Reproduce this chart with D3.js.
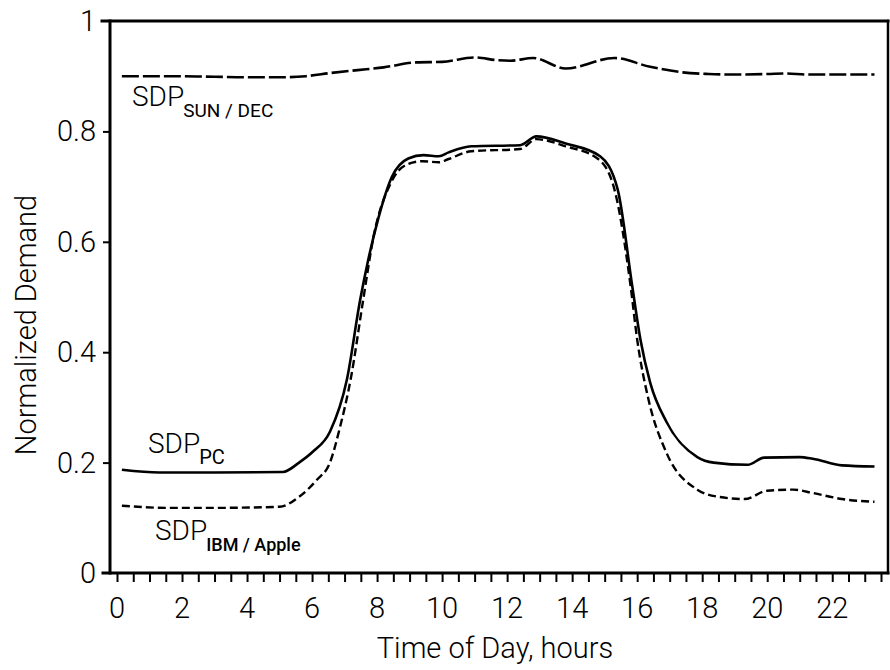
<!DOCTYPE html>
<html>
<head>
<meta charset="utf-8">
<script src="https://cdn.jsdelivr.net/npm/d3@7"></script>
<style>
  html, body { margin: 0; padding: 0; background: #fff; }
  svg { display: block; font-family: Roboto, "Liberation Sans", Arial, sans-serif; font-weight: 300; }
</style>
</head>
<body>
<svg id="chart" width="890" height="670"></svg>
<script>
// ---- data ----
const sunDecHours  = [0.15, 1, 2, 3, 4, 5, 5.8, 6.6, 7.4, 8.2, 9.2, 10, 11, 11.7, 12.1, 12.8, 13.8, 15.3, 16.4, 17.4, 18.2, 19, 20, 20.6, 21.2, 22, 23.3];
const sunDecValues = [0.900, 0.900, 0.900, 0.899, 0.898, 0.898, 0.900, 0.906, 0.911, 0.916, 0.925, 0.926, 0.934, 0.929, 0.928, 0.933, 0.914, 0.933, 0.917, 0.907, 0.904, 0.903, 0.904, 0.905, 0.903, 0.903, 0.903];

const pcHours  = [0.15, 1.3, 3, 5.1, 5.6, 6.03, 6.55, 7.07, 7.48, 7.73, 8.04, 8.45, 8.96, 9.43, 9.9, 10.2, 10.9, 12.4, 12.9, 13.8, 14.86, 15.4, 15.85, 16.1, 16.4, 16.9, 17.85, 18.35, 19.4, 19.9, 21.0, 21.4, 22.3, 23.3];
const pcValues = [0.187, 0.182, 0.182, 0.183, 0.200, 0.220, 0.256, 0.350, 0.495, 0.568, 0.643, 0.717, 0.751, 0.757, 0.755, 0.762, 0.773, 0.775, 0.791, 0.778, 0.755, 0.695, 0.519, 0.423, 0.345, 0.274, 0.210, 0.200, 0.196, 0.209, 0.210, 0.207, 0.195, 0.193];

const ibmHours  = [0.15, 1.5, 3, 5.0, 5.6, 6.15, 6.55, 6.85, 7.2, 7.56, 7.9, 8.4, 8.92, 9.4, 9.9, 10.2, 10.9, 12.4, 12.9, 13.8, 14.8, 15.3, 15.8, 16.0, 16.35, 16.9, 17.85, 18.5, 19.3, 20.0, 20.8, 21.4, 22.3, 23.3];
const ibmValues = [0.122, 0.118, 0.118, 0.120, 0.138, 0.169, 0.200, 0.262, 0.355, 0.490, 0.612, 0.704, 0.740, 0.746, 0.744, 0.750, 0.764, 0.768, 0.786, 0.773, 0.750, 0.695, 0.519, 0.423, 0.314, 0.218, 0.151, 0.138, 0.134, 0.149, 0.151, 0.145, 0.134, 0.129];

const xTickLabels = [0, 2, 4, 6, 8, 10, 12, 14, 16, 18, 20, 22];
const yTickLabels = [0, 0.2, 0.4, 0.6, 0.8, 1];
const xTitle = "Time of Day, hours";
const yTitle = "Normalized Demand";

// ---- layout ----
const svg = d3.select("#chart");
const pL = 110, pR = 888, pT = 21, pB = 573;
const x = d3.scaleLinear().domain([0, 23.5]).range([117, 881]);
const y = d3.scaleLinear().domain([0, 1]).range([pB, pT]);
const ink = "#000";
const font = 29;

// frame
const frame = svg.append("g").attr("stroke", ink).attr("fill", "none").attr("stroke-linecap", "square");
frame.append("line").attr("x1", 102).attr("x2", pR).attr("y1", pT).attr("y2", pT).attr("stroke-width", 3);
frame.append("line").attr("x1", 103).attr("x2", pR).attr("y1", pB).attr("y2", pB).attr("stroke-width", 3);
frame.append("line").attr("x1", pL).attr("x2", pL).attr("y1", pT).attr("y2", pB).attr("stroke-width", 3);
frame.append("line").attr("x1", pR).attr("x2", pR).attr("y1", pT).attr("y2", pB).attr("stroke-width", 2.5);

// x axis (minor ticks every half hour)
const xTicks = d3.range(0, 23.51, 0.5);
const xAxis = d3.axisBottom(x).tickValues(xTicks).tickSize(8).tickFormat("");
const gx = svg.append("g").attr("transform", `translate(0,${pB + 1})`).call(xAxis);
gx.select(".domain").remove();
gx.selectAll(".tick line").attr("stroke", ink).attr("stroke-width", 2);

svg.append("g").selectAll("text").data(xTickLabels).join("text")
  .attr("x", d => x(d)).attr("y", 618)
  .attr("text-anchor", "middle").attr("font-size", font).attr("fill", ink)
  .text(d => d);

// y axis
const yAxis = d3.axisLeft(y).tickValues(yTickLabels.filter(v => v > 0 && v < 1)).tickSize(7).tickFormat("");
const gy = svg.append("g").attr("transform", `translate(${pL},0)`).call(yAxis);
gy.select(".domain").remove();
gy.selectAll(".tick line").attr("stroke", ink).attr("stroke-width", 2);

svg.append("g").selectAll("text").data(yTickLabels).join("text")
  .attr("x", 96).attr("y", d => y(d) + 10)
  .attr("text-anchor", "end").attr("font-size", font).attr("fill", ink)
  .text(d => d);

// titles
svg.append("text").attr("x", 495).attr("y", 658).attr("text-anchor", "middle")
  .attr("font-size", font).attr("fill", ink).text(xTitle);
svg.append("text").attr("transform", "translate(36,325) rotate(-90)").attr("text-anchor", "middle")
  .attr("font-size", font).attr("fill", ink).text(yTitle);

// lines
const line = d3.line().x(d => x(d[0])).y(d => y(d[1])).curve(d3.curveMonotoneX);
const zip = (a, b) => a.map((v, i) => [v, b[i]]);

svg.append("path").datum(zip(sunDecHours, sunDecValues))
  .attr("d", line).attr("fill", "none").attr("stroke", ink)
  .attr("stroke-width", 2.6).attr("stroke-dasharray", "17,4");
svg.append("path").datum(zip(ibmHours, ibmValues))
  .attr("d", line).attr("fill", "none").attr("stroke", ink)
  .attr("stroke-width", 2.4).attr("stroke-dasharray", "8,4");
svg.append("path").datum(zip(pcHours, pcValues))
  .attr("d", line).attr("fill", "none").attr("stroke", ink)
  .attr("stroke-width", 2.6);

// series labels
function label(px, py, main, sub, subSize, subWeight) {
  const t = svg.append("text").attr("x", px).attr("y", py).attr("fill", ink).attr("font-size", 28);
  t.append("tspan").text(main);
  t.append("tspan").attr("dy", 11).attr("font-size", subSize).attr("font-weight", subWeight).attr("dx", -1).text(sub);
}
label(132, 106, "SDP", "SUN / DEC", 19, 400);
label(148, 453, "SDP", "PC", 20, 400);
label(155, 540, "SDP", "IBM / Apple", 18, 500);
</script>
</body>
</html>
